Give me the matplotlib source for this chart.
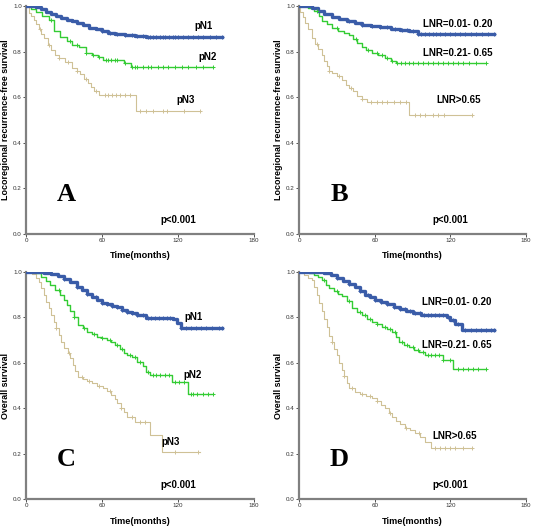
import matplotlib
matplotlib.use("Agg")
import matplotlib.pyplot as plt
import numpy as np

plt.rcParams['font.family'] = ['Liberation Sans', 'DejaVu Sans']

BLUE = '#3a5ca8'
GREEN = '#33cc33'
TAN = '#cfc196'
SPINE = '#808080'

# ---- Panel A: locoregional recurrence-free survival by pN ----
a_pn1_t = [0, 8, 12, 16, 20, 24, 28, 32, 36, 40, 45, 50, 55, 60, 65, 70, 78, 86, 95]
a_pn1_s = [1.0, 0.995, 0.985, 0.975, 0.965, 0.955, 0.947, 0.94, 0.932, 0.924, 0.915, 0.905, 0.897, 0.889, 0.882, 0.877, 0.873, 0.869, 0.862]
a_pn1_end = 155
a_pn1_cens = [60, 66, 72, 78, 84, 88, 92, 96, 98, 100, 103, 106, 108, 110, 113, 116, 118, 120, 124, 128, 132, 136, 140, 145, 150, 155]

a_pn2_t = [0, 4, 8, 13, 18, 22, 27, 32, 36, 42, 47, 52, 57, 61, 77, 83]
a_pn2_s = [1.0, 0.985, 0.975, 0.955, 0.94, 0.89, 0.865, 0.845, 0.83, 0.82, 0.795, 0.785, 0.775, 0.765, 0.751, 0.734]
a_pn2_end = 148
a_pn2_cens = [20, 35, 40, 47, 53, 58, 63, 65, 67, 70, 72, 78, 84, 86, 88, 92, 96, 99, 104, 108, 112, 118, 123, 128, 134, 140, 148]

a_pn3_t = [0, 2, 4, 6, 8, 10, 12, 14, 17, 20, 23, 26, 31, 36, 40, 43, 46, 49, 51, 54, 58, 87]
a_pn3_s = [1.0, 0.97, 0.955, 0.94, 0.92, 0.9, 0.875, 0.86, 0.83, 0.805, 0.785, 0.77, 0.755, 0.73, 0.715, 0.7, 0.68, 0.66, 0.645, 0.625, 0.61, 0.54]
a_pn3_end = 137
a_pn3_cens = [11, 18, 26, 33, 40, 47, 55, 62, 65, 68, 71, 74, 78, 82, 90, 95, 100, 108, 111, 125, 137]

# ---- Panel B: locoregional recurrence-free survival by LNR ----
b_l1_t = [0, 10, 15, 20, 26, 32, 38, 44, 50, 57, 64, 73, 80, 87, 94]
b_l1_s = [1.0, 0.99, 0.978, 0.965, 0.953, 0.943, 0.933, 0.925, 0.918, 0.912, 0.906, 0.9, 0.895, 0.889, 0.878]
b_l1_end = 155
b_l1_cens = [40, 50, 58, 64, 70, 76, 82, 86, 90, 94, 97, 100, 103, 106, 109, 112, 116, 120, 124, 128, 132, 136, 140, 145, 150, 155]

b_l2_t = [0, 7, 12, 16, 18, 22, 26, 31, 36, 40, 43, 46, 50, 53, 58, 63, 68, 73, 77]
b_l2_s = [1.0, 0.99, 0.977, 0.955, 0.935, 0.92, 0.905, 0.89, 0.882, 0.873, 0.855, 0.836, 0.82, 0.807, 0.795, 0.785, 0.77, 0.758, 0.75]
b_l2_end = 148
b_l2_cens = [14, 30, 45, 55, 62, 66, 70, 74, 78, 81, 84, 87, 90, 94, 98, 102, 106, 110, 114, 118, 122, 126, 130, 135, 140, 148]

b_l3_t = [0, 1, 3, 5, 7, 10, 13, 15, 18, 20, 22, 24, 26, 30, 34, 37, 40, 43, 46, 50, 54, 87]
b_l3_s = [1.0, 0.975, 0.953, 0.925, 0.9, 0.86, 0.835, 0.81, 0.785, 0.76, 0.735, 0.715, 0.705, 0.695, 0.675, 0.655, 0.64, 0.625, 0.605, 0.592, 0.58, 0.522]
b_l3_end = 137
b_l3_cens = [14, 24, 32, 41, 50, 57, 62, 66, 70, 75, 80, 85, 92, 96, 100, 106, 110, 115, 137]

# ---- Panel C: overall survival by pN ----
c_pn1_t = [0, 14, 20, 25, 30, 35, 40, 44, 48, 52, 56, 60, 64, 68, 72, 76, 80, 84, 88, 95, 116, 119, 122]
c_pn1_s = [1.0, 0.995, 0.99, 0.983, 0.97, 0.955, 0.936, 0.92, 0.905, 0.89, 0.877, 0.865, 0.858, 0.852, 0.845, 0.835, 0.825, 0.818, 0.811, 0.799, 0.793, 0.774, 0.752]
c_pn1_end = 155
c_pn1_cens = [30, 40, 48, 55, 60, 64, 68, 72, 76, 80, 84, 88, 92, 96, 99, 102, 105, 108, 111, 114, 122, 126, 130, 134, 138, 142, 147, 152, 155]

c_pn2_t = [0, 8, 12, 16, 19, 23, 27, 30, 32, 35, 38, 41, 45, 48, 52, 56, 60, 64, 67, 70, 74, 77, 80, 84, 88, 92, 95, 98, 115, 128]
c_pn2_s = [1.0, 0.994, 0.98, 0.96, 0.943, 0.92, 0.899, 0.875, 0.855, 0.83, 0.8, 0.767, 0.752, 0.737, 0.725, 0.715, 0.708, 0.701, 0.69, 0.678, 0.66, 0.645, 0.634, 0.625, 0.605, 0.585, 0.561, 0.546, 0.514, 0.463]
c_pn2_end = 148
c_pn2_cens = [26, 38, 46, 54, 60, 66, 72, 76, 82, 86, 90, 96, 100, 103, 106, 110, 113, 118, 121, 125, 130, 132, 135, 140, 144, 148]

c_pn3_t = [0, 5, 8, 10, 12, 14, 16, 18, 20, 22, 24, 26, 28, 30, 33, 35, 37, 39, 41, 45, 48, 52, 56, 61, 64, 67, 70, 72, 75, 77, 80, 86, 98, 107]
c_pn3_s = [1.0, 0.99, 0.975, 0.955, 0.93, 0.9, 0.87, 0.84, 0.81, 0.78, 0.752, 0.723, 0.69, 0.664, 0.642, 0.62, 0.59, 0.565, 0.539, 0.53, 0.52, 0.51, 0.5, 0.49, 0.475, 0.46, 0.44, 0.425, 0.4, 0.385, 0.363, 0.341, 0.282, 0.209]
c_pn3_end = 137
c_pn3_cens = [24, 34, 44, 50, 58, 66, 75, 84, 90, 94, 118, 136]

# ---- Panel D: overall survival by LNR ----
d_l1_t = [0, 20, 25, 30, 35, 40, 44, 48, 52, 56, 60, 65, 70, 75, 80, 85, 90, 97, 117, 120, 124, 129]
d_l1_s = [1.0, 0.995, 0.985, 0.975, 0.962, 0.948, 0.933, 0.915, 0.9, 0.888, 0.878, 0.867, 0.858, 0.848, 0.838, 0.828, 0.82, 0.811, 0.8, 0.789, 0.77, 0.745]
d_l1_end = 155
d_l1_cens = [30, 40, 48, 55, 60, 65, 70, 75, 80, 84, 88, 92, 96, 99, 102, 105, 108, 111, 114, 118, 122, 126, 132, 136, 140, 144, 148, 152, 155]

d_l2_t = [0, 8, 12, 15, 18, 21, 24, 28, 31, 34, 38, 42, 46, 50, 54, 58, 62, 66, 70, 74, 77, 79, 83, 87, 91, 95, 100, 114, 122]
d_l2_s = [1.0, 0.995, 0.988, 0.98, 0.965, 0.945, 0.928, 0.915, 0.905, 0.895, 0.872, 0.84, 0.825, 0.81, 0.795, 0.781, 0.77, 0.759, 0.75, 0.737, 0.715, 0.693, 0.68, 0.671, 0.658, 0.646, 0.634, 0.612, 0.575]
d_l2_end = 148
d_l2_cens = [20, 30, 40, 48, 52, 56, 62, 68, 72, 76, 82, 86, 90, 94, 98, 102, 105, 108, 111, 114, 120, 126, 130, 134, 138, 142, 148]

d_l3_t = [0, 4, 7, 10, 12, 14, 16, 18, 20, 22, 24, 26, 28, 30, 32, 34, 36, 38, 40, 44, 48, 53, 58, 62, 65, 68, 71, 74, 77, 80, 84, 88, 92, 96, 100, 105]
d_l3_s = [1.0, 0.987, 0.975, 0.965, 0.935, 0.9, 0.865, 0.83, 0.795, 0.76, 0.72, 0.69, 0.66, 0.634, 0.6, 0.57, 0.54, 0.51, 0.487, 0.472, 0.462, 0.455, 0.443, 0.43, 0.415, 0.399, 0.38, 0.362, 0.345, 0.33, 0.315, 0.304, 0.29, 0.275, 0.25, 0.223]
d_l3_end = 137
d_l3_cens = [26, 36, 42, 50, 56, 62, 72, 85, 95, 108, 112, 116, 120, 124, 130, 137]


def km_curve(ax, t, s, end, cens, color, lw):
    t_all = np.append(t, end)
    s_all = np.append(s, s[-1])
    ax.step(t_all, s_all, where='post', color=color, lw=lw, zorder=3)
    idx = np.searchsorted(t, cens, side='right') - 1
    ax.plot(cens, np.asarray(s)[idx], ls='none', marker='+', color=color,
            ms=3.3, mew=0.7, zorder=4)


def style_axes(ax, ylabel, letter):
    ax.set_xlim(0, 180)
    ax.set_ylim(0, 1.0)
    ax.set_xticks([0, 60, 120, 180])
    ax.set_yticks([0.0, 0.2, 0.4, 0.6, 0.8, 1.0])
    ax.set_yticklabels(['0.0', '0.2', '0.4', '0.6', '0.8', '1.0'])
    for side in ['top', 'right']:
        ax.spines[side].set_visible(False)
    for side in ['left', 'bottom']:
        ax.spines[side].set_color(SPINE)
        ax.spines[side].set_linewidth(1.6)
    ax.tick_params(axis='both', labelsize=4.5, length=2, width=0.6,
                   color='#333333', labelcolor='#333333', pad=1)
    ax.set_xlabel('Time(months)', fontsize=6.6, fontweight='bold', labelpad=6)
    ax.set_ylabel(ylabel, fontsize=6.4, fontweight='bold', labelpad=2)
    ax.text(32, 0.175, letter, fontsize=19, fontweight='bold',
            family=['Liberation Serif'], ha='center', va='center')
    ax.text(106, 0.062, 'p<0.001', fontsize=7, fontweight='bold', va='center')


fig = plt.figure(figsize=(5.34, 5.29), dpi=100)
axA = fig.add_axes([0.0487, 0.5577, 0.427, 0.431])
axB = fig.add_axes([0.560, 0.5577, 0.425, 0.431])
axC = fig.add_axes([0.0487, 0.0567, 0.427, 0.429])
axD = fig.add_axes([0.560, 0.0567, 0.425, 0.429])

km_curve(axA, a_pn3_t, a_pn3_s, a_pn3_end, a_pn3_cens, TAN, 0.8)
km_curve(axA, a_pn2_t, a_pn2_s, a_pn2_end, a_pn2_cens, GREEN, 1.0)
km_curve(axA, a_pn1_t, a_pn1_s, a_pn1_end, a_pn1_cens, BLUE, 2.4)
style_axes(axA, 'Locoregional recurrence-free survival', 'A')
axA.text(133, 0.912, 'pN1', fontsize=7, fontweight='bold', va='center')
axA.text(136, 0.776, 'pN2', fontsize=7, fontweight='bold', va='center')
axA.text(119, 0.588, 'pN3', fontsize=7, fontweight='bold', va='center')

km_curve(axB, b_l3_t, b_l3_s, b_l3_end, b_l3_cens, TAN, 0.8)
km_curve(axB, b_l2_t, b_l2_s, b_l2_end, b_l2_cens, GREEN, 1.0)
km_curve(axB, b_l1_t, b_l1_s, b_l1_end, b_l1_cens, BLUE, 2.4)
style_axes(axB, 'Locoregional recurrence-free survival', 'B')
axB.text(98, 0.921, 'LNR=0.01- 0.20', fontsize=7, fontweight='bold', va='center')
axB.text(98, 0.795, 'LNR=0.21- 0.65', fontsize=7, fontweight='bold', va='center')
axB.text(109, 0.588, 'LNR>0.65', fontsize=7, fontweight='bold', va='center')

km_curve(axC, c_pn3_t, c_pn3_s, c_pn3_end, c_pn3_cens, TAN, 0.8)
km_curve(axC, c_pn2_t, c_pn2_s, c_pn2_end, c_pn2_cens, GREEN, 1.0)
km_curve(axC, c_pn1_t, c_pn1_s, c_pn1_end, c_pn1_cens, BLUE, 2.4)
style_axes(axC, 'Overall survival', 'C')
axC.text(125, 0.803, 'pN1', fontsize=7, fontweight='bold', va='center')
axC.text(124, 0.548, 'pN2', fontsize=7, fontweight='bold', va='center')
axC.text(107, 0.249, 'pN3', fontsize=7, fontweight='bold', va='center')

km_curve(axD, d_l3_t, d_l3_s, d_l3_end, d_l3_cens, TAN, 0.8)
km_curve(axD, d_l2_t, d_l2_s, d_l2_end, d_l2_cens, GREEN, 1.0)
km_curve(axD, d_l1_t, d_l1_s, d_l1_end, d_l1_cens, BLUE, 2.4)
style_axes(axD, 'Overall survival', 'D')
axD.text(97.5, 0.868, 'LNR=0.01- 0.20', fontsize=7, fontweight='bold', va='center')
axD.text(97.5, 0.680, 'LNR=0.21- 0.65', fontsize=7, fontweight='bold', va='center')
axD.text(106, 0.278, 'LNR>0.65', fontsize=7, fontweight='bold', va='center')

fig.savefig('out.png', dpi=100)
